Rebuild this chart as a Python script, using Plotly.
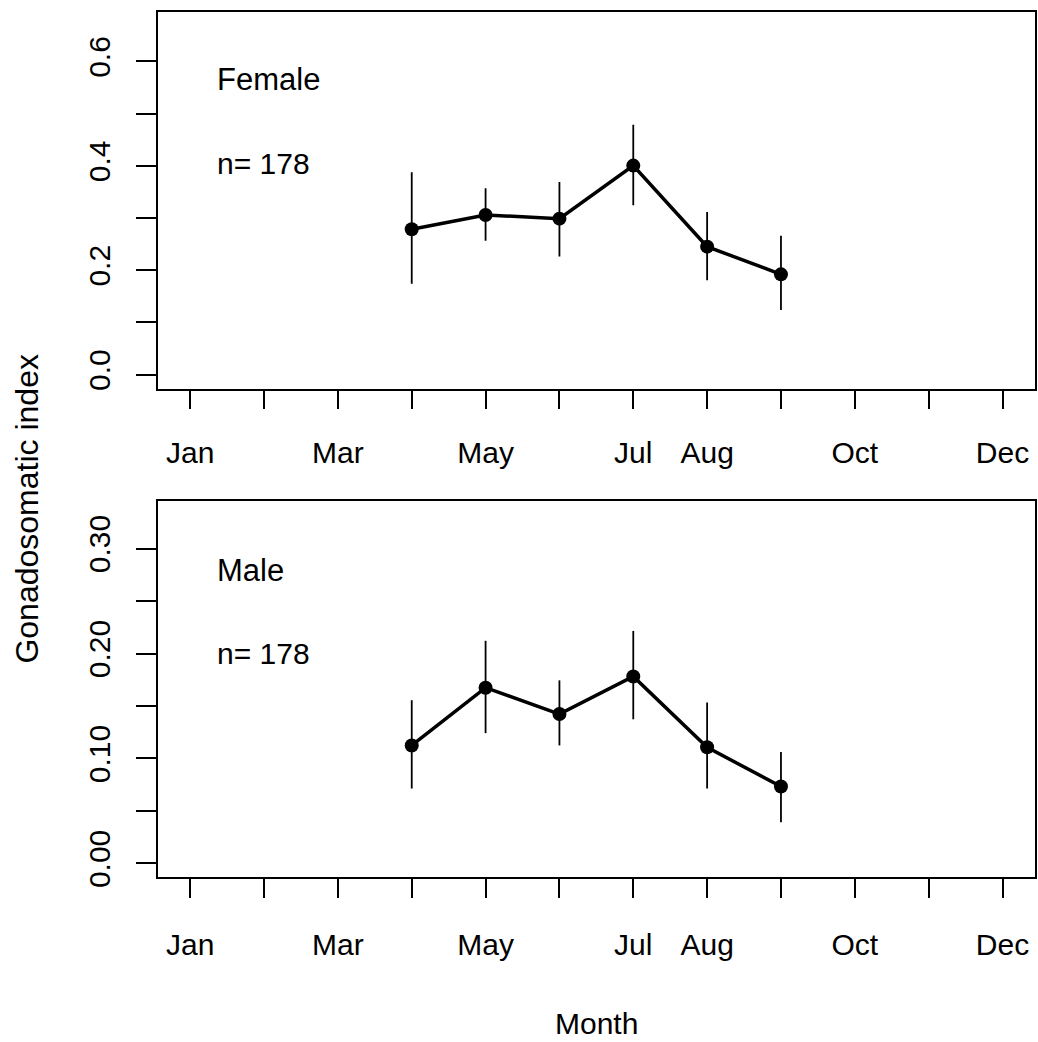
import plotly.graph_objects as go

W, H = 1038, 1042

months = [1, 2, 3, 4, 5, 6, 7, 8, 9, 10, 11, 12]
month_labels = ["Jan", "", "Mar", "", "May", "", "Jul", "Aug", "", "Oct", "", "Dec"]

x_obs = [4, 5, 6, 7, 8, 9]

female_gsi = [0.2785, 0.3058, 0.2988, 0.4005, 0.2452, 0.1921]
female_hi = [0.3875, 0.3570, 0.3689, 0.4788, 0.3114, 0.2660]
female_lo = [0.1743, 0.2565, 0.2262, 0.3247, 0.1807, 0.1239]

male_gsi = [0.1124, 0.1674, 0.1423, 0.1781, 0.1106, 0.0732]
male_hi = [0.1555, 0.2121, 0.1744, 0.2215, 0.1533, 0.1062]
male_lo = [0.0713, 0.1241, 0.1124, 0.1373, 0.0713, 0.0392]

female_yticks = [0.0, 0.1, 0.2, 0.3, 0.4, 0.5, 0.6]
female_ytext = ["0.0", "", "0.2", "", "0.4", "", "0.6"]
male_yticks = [0.0, 0.05, 0.10, 0.15, 0.20, 0.25, 0.30]
male_ytext = ["0.00", "", "0.10", "", "0.20", "", "0.30"]

FONT = "Liberation Sans, Arial, sans-serif"
FS = 30

def px(x):
    return x / W

def py(y):
    return 1 - y / H

fig = go.Figure()

def add_panel(vals, hi, lo, xa, ya):
    fig.add_trace(go.Scatter(
        x=x_obs, y=vals, xaxis=xa, yaxis=ya, mode="lines+markers",
        line=dict(color="black", width=3.5),
        marker=dict(color="black", size=14, symbol="circle"),
        error_y=dict(type="data", symmetric=False,
                     array=[h - v for h, v in zip(hi, vals)],
                     arrayminus=[v - l for v, l in zip(vals, lo)],
                     color="black", thickness=1.8, width=0),
        showlegend=False, hoverinfo="skip",
    ))

add_panel(female_gsi, female_hi, female_lo, "x", "y")
add_panel(male_gsi, male_hi, male_lo, "x2", "y2")

xdom = [px(157.7), px(1035)]
axis_common = dict(showline=True, linecolor="black", linewidth=1.5, mirror=True,
                   ticks="outside", tickcolor="black", tickwidth=1.5,
                   showgrid=False, zeroline=False,
                   tickfont=dict(family=FONT, size=FS, color="black"))

xax = dict(axis_common, domain=xdom, range=[0.56, 12.44], tickmode="array",
           tickvals=months, ticktext=month_labels, ticklen=19)
fig.update_layout(
    xaxis=dict(xax, anchor="y", ticklabelstandoff=18),
    xaxis2=dict(xax, anchor="y2", ticklabelstandoff=21),
    yaxis=dict(axis_common, domain=[py(392.7), py(12)], range=[-0.0267, 0.695],
               tickmode="array", tickvals=female_yticks, ticktext=female_ytext,
               ticklen=20, tickangle=-90, anchor="x", ticklabelstandoff=14),
    yaxis2=dict(axis_common, domain=[py(886.7), py(506.7)], range=[-0.0133, 0.345],
                tickmode="array", tickvals=male_yticks, ticktext=male_ytext,
                ticklen=20, tickangle=-90, anchor="x2", ticklabelstandoff=14),
)

annots = [
    dict(text="Female", x=px(215), y=py(80), xanchor="left", yanchor="middle", fs=31),
    dict(text="n= 178", x=px(215), y=py(165), xanchor="left", yanchor="middle", fs=30),
    dict(text="Male", x=px(215), y=py(577), xanchor="left", yanchor="middle", fs=31),
    dict(text="n= 178", x=px(215), y=py(660), xanchor="left", yanchor="middle", fs=30),
    dict(text="Month", x=px(596), y=py(1034), xanchor="center", yanchor="middle", fs=30),
    dict(text="Gonadosomatic index", x=px(27), y=py(514), xanchor="center",
         yanchor="middle", textangle=-90, fs=32),
]
for a in annots:
    fs = a.pop("fs")
    a.update(xref="paper", yref="paper", showarrow=False,
             font=dict(family=FONT, size=fs, color="black"))
fig.update_layout(annotations=annots)

fig.update_layout(
    width=W, height=H, margin=dict(l=0, r=0, t=0, b=0),
    paper_bgcolor="white", plot_bgcolor="white",
    font=dict(family=FONT, size=FS, color="black"),
)

fig.write_html("out.html", config={"displayModeBar": False},
               post_script="document.body.style.margin='0';document.body.style.padding='0';")
